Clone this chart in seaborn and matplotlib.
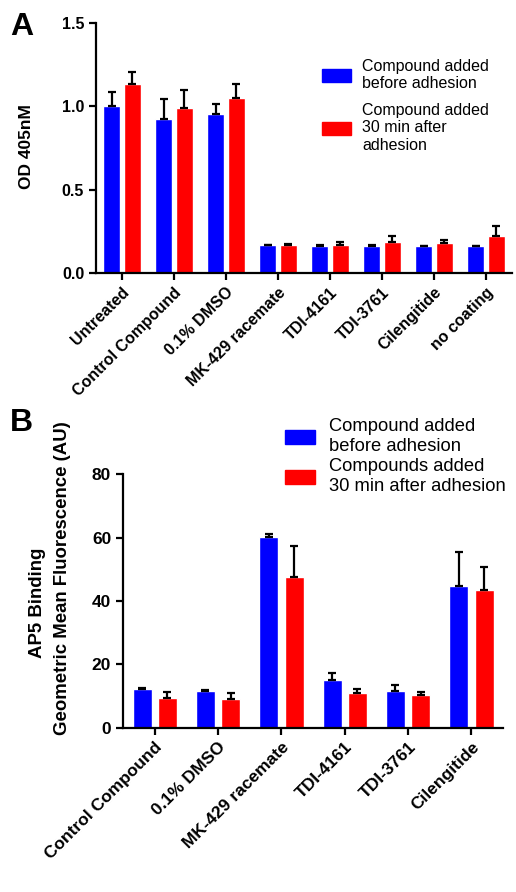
import numpy as np
import pandas as pd
import matplotlib
matplotlib.use("Agg")
import matplotlib.pyplot as plt
from matplotlib.patches import Patch
import seaborn as sns

# panel A: adhesion assay
cats_a = ["Untreated", "Control Compound", "0.1% DMSO", "MK-429 racemate",
          "TDI-4161", "TDI-3761", "Cilengitide", "no coating"]
before_a = [1.005, 0.925, 0.957, 0.166, 0.164, 0.162, 0.162, 0.162]
after_a = [1.134, 0.993, 1.052, 0.170, 0.170, 0.186, 0.180, 0.222]
err_before_a = [0.083, 0.121, 0.058, 0.004, 0.003, 0.004, 0.002, 0.003]
err_after_a = [0.074, 0.105, 0.080, 0.006, 0.014, 0.034, 0.020, 0.058]
legend_a = ["Compound added\nbefore adhesion", "Compound added\n30 min after\nadhesion"]

# panel B: AP5 binding
cats_b = ["Control Compound", "0.1% DMSO", "MK-429 racemate",
          "TDI-4161", "TDI-3761", "Cilengitide"]
before_b = [12.3, 11.6, 60.2, 15.0, 11.6, 44.8]
after_b = [9.4, 9.1, 47.6, 10.9, 10.4, 43.6]
err_before_b = [0.2, 0.4, 0.8, 2.3, 2.0, 10.7]
err_after_b = [2.0, 1.9, 9.8, 1.4, 0.8, 7.2]
legend_b = ["Compound added\nbefore adhesion", "Compounds added\n30 min after adhesion"]

colors = ["#0000ff", "#ff0000"]

sns.set_style("ticks")
plt.rcParams["font.family"] = ["Liberation Sans", "DejaVu Sans"]
plt.rcParams["text.color"] = "black"
plt.rcParams["axes.labelcolor"] = "black"
plt.rcParams["xtick.color"] = "black"
plt.rcParams["ytick.color"] = "black"
plt.rcParams["axes.edgecolor"] = "black"

W, H = 516, 892
fig = plt.figure(figsize=(W / 100, H / 100), dpi=100)


def px_axes(x0, y_top, x1, y_bot):
    return fig.add_axes([x0 / W, 1 - y_bot / H, (x1 - x0) / W, (y_bot - y_top) / H])


def draw_panel(ax, cats, before, after, eb, ea, gap, tick_fs):
    df = pd.DataFrame({
        "cat": cats * 2,
        "val": before + after,
        "cond": ["before"] * len(cats) + ["after"] * len(cats),
    })
    sns.barplot(data=df, x="cat", y="val", hue="cond", palette=colors,
                saturation=1, width=0.8, gap=gap, errorbar=None,
                legend=False, ax=ax)
    for cont, err in zip(ax.containers, [eb, ea]):
        xs = [b.get_x() + b.get_width() / 2 for b in cont]
        ys = [b.get_height() for b in cont]
        ax.errorbar(xs, ys, yerr=[np.zeros(len(err)), err], fmt="none",
                    ecolor="black", elinewidth=1.6, capsize=3, capthick=1.6,
                    zorder=1)
    sns.despine(ax=ax)
    for s in ["left", "bottom"]:
        ax.spines[s].set_linewidth(1.6)
    ax.tick_params(width=1.6, length=5, direction="out")
    ax.set_xlim(-0.5, len(cats) - 0.5)
    ax.set_xlabel("")
    ax.set_ylabel("")
    ax.set_xticks(range(len(cats)))
    ax.set_xticklabels(cats, rotation=45, ha="right", rotation_mode="anchor",
                       fontsize=tick_fs, fontweight="bold")


# ---- A ----
ax1 = px_axes(96, 23, 512, 273)
draw_panel(ax1, cats_a, before_a, after_a, err_before_a, err_after_a, 0.22, 11.5)
ax1.set_ylim(0, 1.5)
ax1.set_yticks([0.0, 0.5, 1.0, 1.5])
ax1.set_yticklabels(["0.0", "0.5", "1.0", "1.5"], fontsize=11.5, fontweight="bold")
fig.text(27 / W, 1 - 147 / H, "OD 405nM", rotation=90, fontsize=12.5,
         fontweight="bold", ha="center", va="center")
hand = [Patch(facecolor=c, edgecolor=c) for c in colors]
ax1.legend(hand, legend_a, loc="upper left", bbox_to_anchor=(314 / W, 1 - 51 / H),
           bbox_transform=fig.transFigure, frameon=False, fontsize=11.5,
           handlelength=1.8, handleheight=0.9, handletextpad=0.7,
           labelspacing=0.72, borderpad=0)

# ---- B ----
ax2 = px_axes(123, 474.3, 503, 727.7)
draw_panel(ax2, cats_b, before_b, after_b, err_before_b, err_after_b, 0.25, 12.5)
ax2.set_ylim(0, 80)
ax2.set_yticks([0, 20, 40, 60, 80])
ax2.set_yticklabels(["0", "20", "40", "60", "80"], fontsize=12.5, fontweight="bold")
fig.text(38 / W, 1 - 603 / H, "AP5 Binding", rotation=90, fontsize=13.4,
         fontweight="bold", ha="center", va="center")
fig.text(63 / W, 1 - 578 / H, "Geometric Mean Fluorescence (AU)", rotation=90,
         fontsize=13.4, fontweight="bold", ha="center", va="center")
ax2.legend(hand, legend_b, loc="upper left", bbox_to_anchor=(276 / W, 1 - 409 / H),
           bbox_transform=fig.transFigure, frameon=False, fontsize=13.2,
           handlelength=1.65, handleheight=0.8, handletextpad=0.75,
           labelspacing=0.2, borderpad=0)

fig.text(10 / W, 1 - 12 / H, "A", fontsize=23, fontweight="bold", va="top")
fig.text(10 / W, 1 - 408 / H, "B", fontsize=23, fontweight="bold", va="top")

fig.savefig("out.png", dpi=100, facecolor="white")
